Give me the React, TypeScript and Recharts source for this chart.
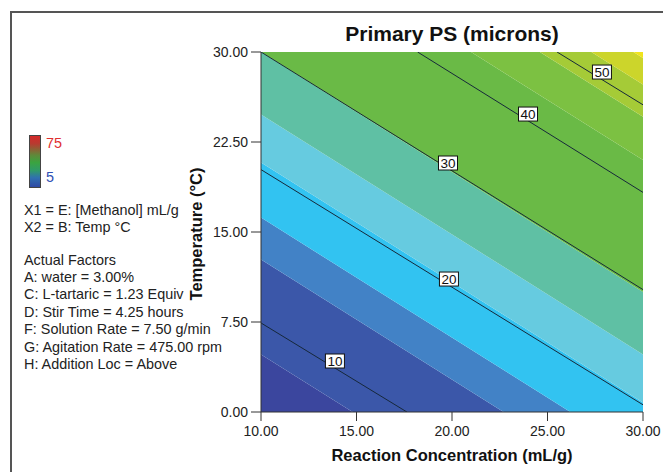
import {
  ComposedChart,
  Area,
  Line,
  Scatter,
  XAxis,
  YAxis,
} from "recharts";

// color bands of the response surface, bottom-left to top-right
// edges are the value of (conc + temp) where one band turns into the next
const bandEdges = [14.8, 22.7, 26.2, 30.8, 34.8, 40.0, 51.0, 54.6, 57.3, 59.5];
const bandColors = [
  "#3b469e",
  "#3b57a9",
  "#4282c6",
  "#32c3f1",
  "#66cbe0",
  "#5fc0a4",
  "#6aba46",
  "#7cc142",
  "#a5cb37",
  "#ccd52b",
  "#f0e41c",
];

// contour lines (conc, temp)
const contour10 = [
  { c: 10, t: 7.42 },
  { c: 17.64, t: 0 },
];
const contour20 = [
  { c: 10, t: 20.2 },
  { c: 30, t: 0.6 },
];
const contour30 = [
  { c: 10, t: 30 },
  { c: 30, t: 10.2 },
];
const contour40 = [
  { c: 18.2, t: 30 },
  { c: 30, t: 18.3 },
];
const contour50 = [
  { c: 25.5, t: 30 },
  { c: 30, t: 25.6 },
];
const contours = [contour10, contour20, contour30, contour40, contour50];

const contourLabels = [
  { c: 13.87, t: 4.25, level: 10 },
  { c: 19.84, t: 11.08, level: 20 },
  { c: 19.79, t: 20.75, level: 30 },
  { c: 23.98, t: 24.83, level: 40 },
  { c: 27.85, t: 28.33, level: 50 },
];

const xTicks = [10, 15, 20, 25, 30];
const yTicks = [0, 7.5, 15, 22.5, 30];

const factorLines = [
  "A: water = 3.00%",
  "C: L-tartaric = 1.23 Equiv",
  "D: Stir Time = 4.25 hours",
  "F: Solution Rate = 7.50 g/min",
  "G: Agitation Rate = 475.00 rpm",
  "H: Addition Loc = Above",
];

const FONT = "'Liberation Sans', Arial, Helvetica, sans-serif";

// two rows (left and right edge of the plot) are enough for straight bands
const bandRows = [10, 30].map((c) => {
  const row: Record<string, any> = { c };
  bandColors.forEach((_, i) => {
    const lo = i === 0 ? 0 : bandEdges[i - 1];
    const hi = i === bandColors.length - 1 ? 90 : bandEdges[i];
    row[`b${i}`] = [lo - c, hi - c];
  });
  return row;
});

const LabelBox = (props: any) => {
  const { cx, cy, payload } = props;
  return (
    <g>
      <rect x={cx - 9.5} y={cy - 7} width={19} height={14} fill="#fff" stroke="#111" strokeWidth={1} />
      <text x={cx} y={cy} dy="0.36em" textAnchor="middle" fontSize={13.5} fontFamily={FONT} fill="#111">
        {payload.level}
      </text>
    </g>
  );
};

const textStyle: React.CSSProperties = {
  position: "absolute",
  fontFamily: FONT,
  fontSize: 14.4,
  lineHeight: "16px",
  color: "#222",
  whiteSpace: "nowrap",
};

export default function App() {
  return (
    <div style={{ position: "absolute", left: 0, top: 0, width: 663, height: 472, background: "#fff", overflow: "hidden" }}>
      <div
        style={{
          position: "absolute",
          left: 10,
          top: 11,
          width: 653,
          height: 461,
          borderTop: "2px solid #555",
          borderLeft: "2px solid #555",
          boxSizing: "border-box",
        }}
      />

      <ComposedChart
        width={663}
        height={472}
        data={bandRows}
        margin={{ top: 52, right: 20, bottom: 0, left: 0 }}
        style={{ position: "absolute", left: 0, top: 0 }}
      >
        {bandColors.map((color, i) => (
          <Area
            key={color}
            dataKey={`b${i}`}
            type="linear"
            fill={color}
            fillOpacity={1}
            stroke="none"
            isAnimationActive={false}
          />
        ))}
        {contours.map((pts, i) => (
          <Line
            key={i}
            data={pts}
            dataKey="t"
            type="linear"
            stroke="#16283a"
            strokeWidth={1}
            dot={false}
            isAnimationActive={false}
          />
        ))}
        <Scatter data={contourLabels} dataKey="t" shape={LabelBox} isAnimationActive={false} />

        <XAxis
          dataKey="c"
          type="number"
          domain={[10, 30]}
          ticks={xTicks}
          allowDataOverflow
          height={60}
          tickSize={9}
          tickMargin={5}
          tickFormatter={(v: number) => v.toFixed(2)}
          tick={{ fill: "#222", fontSize: 14, fontFamily: FONT }}
          stroke="#333"
        />
        <YAxis
          dataKey="t"
          type="number"
          domain={[0, 30]}
          ticks={yTicks}
          allowDataOverflow
          width={261}
          tickSize={10}
          tickMargin={3}
          tickFormatter={(v: number) => v.toFixed(2)}
          tick={{ fill: "#222", fontSize: 14, fontFamily: FONT }}
          stroke="#333"
        />
        <XAxis xAxisId="top" orientation="top" type="number" domain={[10, 30]} height={0} tick={false} tickLine={false} stroke="#333" />
        <YAxis yAxisId="right" orientation="right" type="number" domain={[0, 30]} width={0} tick={false} tickLine={false} stroke="#333" />
      </ComposedChart>

      <div style={{ ...textStyle, left: 261, width: 382, top: 22, textAlign: "center", fontSize: 21, lineHeight: "24px", fontWeight: "bold", color: "#111" }}>
        Primary PS (microns)
      </div>
      <div style={{ ...textStyle, left: 261, width: 382, top: 445, textAlign: "center", fontSize: 16.5, lineHeight: "20px", fontWeight: "bold", color: "#111" }}>
        Reaction Concentration (mL/g)
      </div>
      <div
        style={{
          ...textStyle,
          left: 196 - 100,
          top: 234 - 10,
          width: 200,
          textAlign: "center",
          fontSize: 16.5,
          lineHeight: "20px",
          fontWeight: "bold",
          color: "#111",
          transform: "rotate(-90deg)",
        }}
      >
        Temperature (°C)
      </div>

      {/* color scale */}
      <div
        style={{
          position: "absolute",
          left: 29,
          top: 135,
          width: 12,
          height: 53,
          border: "1px solid #444",
          boxSizing: "border-box",
          background: "linear-gradient(to bottom, #d42a2a 0%, #b83a30 15%, #5e8a3a 38%, #3aa440 52%, #2f9a6a 68%, #3070b0 82%, #2f4aa4 100%)",
        }}
      />
      <div style={{ ...textStyle, left: 46, top: 135, color: "#e03030" }}>75</div>
      <div style={{ ...textStyle, left: 46, top: 169, color: "#3050b4" }}>5</div>

      <div style={{ ...textStyle, left: 24, top: 202 }}>X1 = E: [Methanol] mL/g</div>
      <div style={{ ...textStyle, left: 24, top: 219 }}>X2 = B: Temp °C</div>
      <div style={{ ...textStyle, left: 24, top: 252 }}>Actual Factors</div>
      {factorLines.map((t, i) => (
        <div key={t} style={{ ...textStyle, left: 24, top: 269 + i * 17.4 }}>
          {t}
        </div>
      ))}
    </div>
  );
}
